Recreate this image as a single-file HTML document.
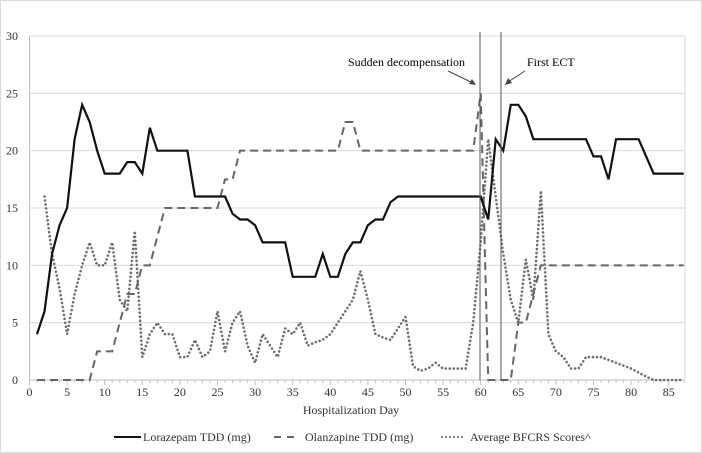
<!DOCTYPE html>
<html><head><meta charset="utf-8"><style>
body{margin:0;background:#fff}
svg{display:block;font-family:"Liberation Serif",serif}
</style></head><body>
<svg id="c" width="702" height="453">
<rect x="0.5" y="0.5" width="701" height="452" fill="#fff" stroke="#d9d9d9"/>
<g id="grid"></g><g id="axes"></g><g id="series"></g>
<g>
<line x1="480" y1="32" x2="480" y2="380" stroke="#555" stroke-width="1"/>
<line x1="501" y1="32" x2="501" y2="380" stroke="#555" stroke-width="1"/>
<text x="348" y="66" font-size="12">Sudden decompensation</text>
<line x1="448" y1="71" x2="473" y2="83" stroke="#444"/>
<polygon points="476,85 469,84 472,79" fill="#444"/>
<text x="527" y="66" font-size="12">First ECT</text>
<line x1="525" y1="71" x2="508" y2="82" stroke="#444"/>
<polygon points="505,85 508,78 512,83" fill="#444"/>
</g>
<text x="351" y="414" font-size="12" text-anchor="middle" fill="#333">Hospitalization Day</text>
<g font-size="12" fill="#333">
<g><line x1="114" y1="437" x2="141" y2="437" stroke="#111" stroke-width="2"/><text x="143" y="441">Lorazepam TDD (mg)</text></g>
<g><line x1="274" y1="437" x2="299" y2="437" stroke="#666" stroke-width="2" stroke-dasharray="7,6"/><text x="305" y="441">Olanzapine TDD (mg)</text></g>
<g><line x1="442" y1="437" x2="466" y2="437" stroke="#777" stroke-width="2.2" stroke-linecap="round" stroke-dasharray="0,4"/><text x="470" y="441">Average BFCRS Scores^</text></g>
</g>
</svg>
<script>
const lorDays=[1,2,3,4,5,6,7,8,9,10,11,12,13,14,15,16,17,21,22,26,27,28,29,30,31,34,35,38,39,40,41,42,43,44,45,46,47,48,49,60,61,62,63,64,65,66,67,74,75,76,77,78,81,83,87];
const lorVals=[4,6,11,13.5,15,21,24,22.5,20,18,18,18,19,19,18,22,20,20,16,16,14.5,14,14,13.5,12,12,9,9,11,9,9,11,12,12,13.5,14,14,15.5,16,16,14,21,20,24,24,23,21,21,19.5,19.5,17.5,21,21,18,18];
const olzDays=[1,8,9,11,13,14,15,16,18,25,26,27,28,41,42,43,44,59,60,61,63,64,65,66,67,68,87];
const olzVals=[0,0,2.5,2.5,7.5,7.5,10,10,15,15,17.5,17.5,20,20,22.5,22.5,20,20,25,0,0,0,5,5,7.5,10,10];
const bfDays=[2,3,4,5,6,7,8,9,10,11,12,13,14,15,16,17,18,19,20,21,22,23,24,25,26,27,28,29,30,31,32,33,34,35,36,37,38,39,40,41,42,43,44,45,46,47,48,49,50,51,52,53,54,55,58,59,60,61,62,63,64,65,66,67,68,69,70,71,72,73,74,76,78,80,82,83,87];
const bfVals=[16,11,8,4,7.5,10,12,10,10,12,7,6,13,2,4,5,4,4,2,2,3.5,2,2.5,6,2.5,5,6,3,1.5,4,3,2,4.5,4,5,3,3.3,3.5,4,5,6,7,9.5,7,4,3.7,3.5,4.5,5.5,1.2,0.8,1,1.5,1,1,5,12,21,16,11,7,5,10.5,7,16.5,4,2.5,2,1,1,2,2,1.5,1,0.3,0,0];
const yTicks=[0,5,10,15,20,25,30];
const xTicks=[0,5,10,15,20,25,30,35,40,45,50,55,60,65,70,75,80,85];
const X=d=>29.5+d*7.52, Y=v=>380-v*(344/30);
const NS="http://www.w3.org/2000/svg";
function mk(t,p,a){const e=document.createElementNS(NS,t);for(const k in a)e.setAttribute(k,a[k]);document.getElementById(p).appendChild(e);return e;}
yTicks.forEach(v=>{
 const l=mk('line','grid',{x1:29.5,x2:685,y1:Y(v),y2:Y(v),stroke:v?'#d9d9d9':'#bfbfbf'});
 
 
 const t=mk('text','axes',{x:18,y:Y(v)+4,'font-size':12,'text-anchor':'end',fill:'#333'});t.textContent=v;
 
 
});
mk('line','grid',{x1:29.5,x2:29.5,y1:36,y2:380,stroke:'#bfbfbf'});
mk('line','grid',{x1:685,x2:685,y1:36,y2:380,stroke:'#d9d9d9'});
for(let d=0;d<=87;d++)mk('line','axes',{x1:X(d),x2:X(d),y1:380,y2:d%5?383:385,stroke:'#bfbfbf'});
xTicks.forEach(d=>{const t=mk('text','axes',{x:X(d),y:396,'font-size':12,'text-anchor':'middle',fill:'#333'});t.textContent=d;
 
 });
function line(days,vals,attrs,name){const p=mk('polyline','series',Object.assign({fill:'none',points:days.map((d,i)=>X(d)+','+Y(vals[i])).join(' ')},attrs));
 
 }
line(bfDays,bfVals,{stroke:'#6e6e6e','stroke-width':2.6,'stroke-linecap':'round','stroke-dasharray':'0,4'},'bfcrs-line');
line(olzDays,olzVals,{stroke:'#666','stroke-width':2,'stroke-dasharray':'8,5'},'olanzapine-line');
line(lorDays,lorVals,{stroke:'#111','stroke-width':2.2},'lorazepam-line');
</script>
</body></html>
